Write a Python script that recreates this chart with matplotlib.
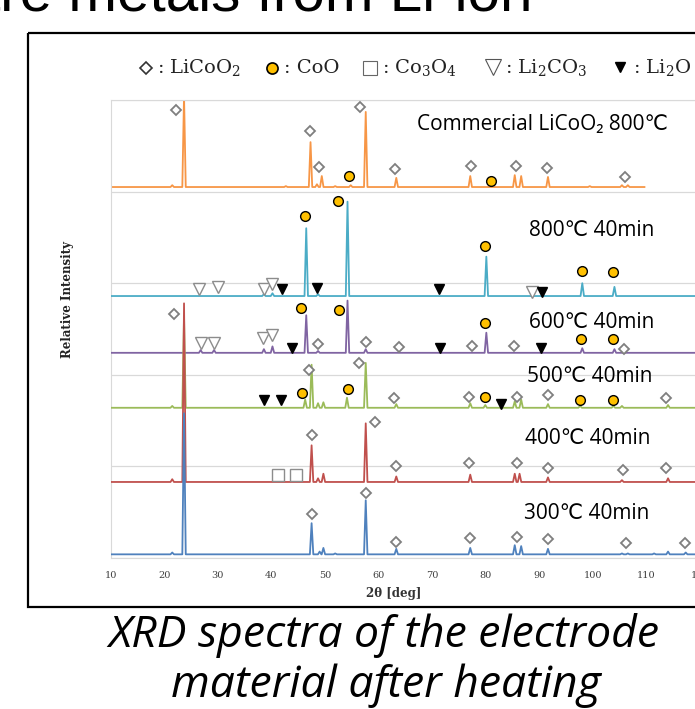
import matplotlib
matplotlib.use('Agg')
import matplotlib.pyplot as plt
import numpy as np
from matplotlib.patches import Rectangle

plt.rcParams['mathtext.fontset'] = 'dejavuserif'

# ---------------- data ----------------
tick_values = [10, 20, 30, 40, 50, 60, 70, 80, 90, 100, 110, 120]

labels = ['Commercial LiCoO\u2082 800\u2103', '800\u2103 40min', '600\u2103 40min',
          '500\u2103 40min', '400\u2103 40min', '300\u2103 40min']
colors = ['#F79646', '#4BACC6', '#8064A2', '#9BBB59', '#C0504D', '#4F81BD']
baselines = [4.05, 2.86, 2.24, 1.64, 0.83, 0.04]
x_end = [109.6, 120, 120, 120, 120, 120]

# peak positions (2theta) and heights above the baseline, one pair per spectrum
commercial_pos = [21.5, 23.7, 42.7, 47.3, 48.5, 49.4, 51.9, 54.8, 57.6, 63.3, 77.1, 85.4, 86.6, 91.6, 99.4, 105.4, 106.5]
commercial_h = [0.02, 1.00, 0.01, 0.49, 0.03, 0.12, 0.01, 0.02, 0.82, 0.10, 0.12, 0.13, 0.12, 0.11, 0.01, 0.02, 0.02]
c800_pos = [38.6, 40.2, 46.5, 48.7, 54.2, 80.1, 98.0, 104.0]
c800_h = [0.02, 0.03, 0.74, 0.02, 1.03, 0.43, 0.14, 0.10]
c600_pos = [26.8, 29.3, 38.6, 40.2, 46.5, 48.7, 54.2, 57.6, 80.1, 98.0, 104.0]
c600_h = [0.03, 0.03, 0.04, 0.07, 0.41, 0.02, 0.57, 0.04, 0.22, 0.05, 0.04]
c500_pos = [21.5, 23.7, 46.3, 47.5, 48.7, 49.7, 54.1, 57.6, 63.3, 77.1, 79.9, 85.4, 86.6, 91.6, 97.6, 103.8, 105.4, 114.0]
c500_h = [0.02, 1.00, 0.09, 0.47, 0.05, 0.06, 0.11, 0.49, 0.04, 0.05, 0.03, 0.07, 0.09, 0.04, 0.02, 0.02, 0.02, 0.03]
c400_pos = [21.5, 23.7, 47.5, 48.7, 49.7, 57.6, 63.3, 77.1, 85.4, 86.3, 91.6, 105.4, 114.0]
c400_h = [0.03, 1.95, 0.40, 0.04, 0.09, 0.64, 0.06, 0.08, 0.09, 0.09, 0.05, 0.02, 0.04]
c300_pos = [21.5, 23.7, 47.5, 49.0, 49.7, 51.9, 57.6, 63.3, 77.1, 85.4, 86.6, 91.6, 105.4, 106.5, 111.4, 114.0, 117.3]
c300_h = [0.02, 1.54, 0.34, 0.03, 0.07, 0.01, 0.59, 0.06, 0.07, 0.10, 0.09, 0.06, 0.01, 0.01, 0.01, 0.03, 0.02]

peak_pos = [commercial_pos, c800_pos, c600_pos, c500_pos, c400_pos, c300_pos]
peak_h = [commercial_h, c800_h, c600_h, c500_h, c400_h, c300_h]

# phase markers (2theta, plotted level)
licoo2_x = [22.2, 47.2, 48.9, 56.6, 63.1, 77.3, 85.7, 91.4, 106.0,
            21.8, 48.7, 57.6, 63.8, 77.4, 85.2, 105.8,
            47.1, 56.3, 62.8, 76.9, 85.9, 91.6, 113.7,
            47.5, 59.4, 63.3, 76.9, 85.9, 91.6, 105.6, 113.7,
            47.5, 57.6, 63.3, 77.1, 85.9, 91.6, 106.2, 117.1]
licoo2_y = [4.89, 4.66, 4.27, 4.92, 4.25, 4.28, 4.28, 4.26, 4.16,
            2.66, 2.34, 2.36, 2.30, 2.31, 2.31, 2.28,
            2.05, 2.13, 1.75, 1.76, 1.76, 1.78, 1.75,
            1.34, 1.48, 1.00, 1.04, 1.04, 0.98, 0.96, 0.98,
            0.48, 0.71, 0.17, 0.22, 0.23, 0.21, 0.16, 0.16]
coo_x = [54.4, 81.0, 46.3, 52.5, 79.9, 98.0, 103.8,
         45.6, 52.6, 79.9, 97.8, 103.8, 45.8, 54.2, 79.9, 97.6, 103.8]
coo_y = [4.17, 4.12, 3.73, 3.90, 3.41, 3.13, 3.12,
         2.73, 2.71, 2.57, 2.39, 2.39, 1.80, 1.84, 1.76, 1.72, 1.72]
co3o4_x = [41.3, 44.6]
co3o4_y = [0.91, 0.91]
li2co3_x = [26.4, 30.0, 38.6, 40.2, 88.6, 26.8, 29.3, 38.5, 40.2]
li2co3_y = [2.94, 2.96, 2.94, 2.99, 2.90, 2.35, 2.35, 2.40, 2.43]
li2o_x = [41.9, 48.5, 71.2, 90.5, 43.8, 71.4, 90.3, 38.6, 41.7, 82.9]
li2o_y = [2.94, 2.95, 2.94, 2.90, 2.29, 2.29, 2.29, 1.72, 1.72, 1.68]

label_x = [67.2, 88.1, 88.1, 87.7, 87.3, 87.1]
label_y = [4.73, 3.58, 2.57, 1.98, 1.30, 0.49]


def spectrum(base, end, pos, h, w=0.32):
    xs, ys = [10.0], [base]
    for p, hh in sorted(zip(pos, h)):
        xs += [p - w, p, p + w]
        ys += [base, base + hh, base]
    xs.append(end)
    ys.append(base)
    return np.array(xs), np.array(ys)


fig = plt.figure(figsize=(6.95, 7.09), dpi=100)
W, H = 695, 709

# main spectra axes (right side runs off the picture, as in the slide crop)
ax = fig.add_axes([110.6 / W, 1 - 558 / H, 589.6 / W, 458 / H])
ax.set_xlim(10, 120)
ax.set_ylim(0, 5)
for yy in range(6):
    ax.axhline(yy, color='#d9d9d9', lw=0.9, zorder=0)
for s in ax.spines.values():
    s.set_color('#d9d9d9')
ax.set_yticks([])
ax.set_xticks(tick_values)
ax.tick_params(axis='x', length=0, pad=9, labelsize=7, labelcolor='#404040')
for t in ax.get_xticklabels():
    t.set_family('DejaVu Serif')

for i in range(len(labels)):
    xs, ys = spectrum(baselines[i], x_end[i], peak_pos[i], peak_h[i])
    ax.plot(xs, ys, color=colors[i], lw=1.3, zorder=2 + i)
    ax.text(label_x[i], label_y[i], labels[i], fontsize=15, va='center', ha='left',
            family=['Open Sans', 'DejaVu Sans'], color='black', zorder=20)

mk = dict(ls='none', zorder=15, clip_on=False)
ax.plot(licoo2_x, licoo2_y, marker='D', ms=5.5, mfc='white', mec='#7f7f7f', mew=1.3, **mk)
ax.plot(coo_x, coo_y, marker='o', ms=7, mfc='#FFC000', mec='black', mew=1.0, **mk)
ax.plot(co3o4_x, co3o4_y, marker='s', ms=8, mfc='white', mec='#8c8c8c', mew=1.0, **mk)
ax.plot(li2co3_x, li2co3_y, marker='v', ms=8, mfc='white', mec='#8c8c8c', mew=1.0, **mk)
ax.plot(li2o_x, li2o_y, marker='v', ms=7.5, mfc='black', mec='black', mew=1.0, **mk)

# overlay in pixel units for the slide furniture
ov = fig.add_axes([0, 0, 1, 1], facecolor='none')
ov.set_xlim(0, W)
ov.set_ylim(H, 0)
ov.axis('off')

ov.add_patch(Rectangle((28, 33), 700, 574, fill=False, ec='black', lw=1.6))

# slide title, mostly cut off at the top edge
ov.text(532, 11, 'Recovery of rare metals from Li-ion', fontsize=42, ha='right',
        va='baseline', family='Liberation Sans', color='black')

# legend row
lg = dict(fontsize=14, va='center', family='DejaVu Serif', color='#222222')
ov.plot([146], [68], marker='D', ms=6, mfc='white', mec='#333333', mew=1.2)
ov.text(157, 68, r': LiCoO$_2$', **lg)
ov.plot([272], [68], marker='o', ms=8, mfc='#FFC000', mec='black', mew=1.2)
ov.text(284, 68, ': CoO', **lg)
ov.plot([370], [68], marker='s', ms=10, mfc='white', mec='#666666', mew=0.8)
ov.text(382, 68, r': Co$_3$O$_4$', **lg)
ov.plot([493], [67], marker='v', ms=11, mfc='white', mec='#555555', mew=0.8)
ov.text(505, 68, r': Li$_2$CO$_3$', **lg)
ov.plot([620], [67], marker='v', ms=7, mfc='black', mec='black')
ov.text(633, 68, r': Li$_2$O', **lg)

ov.text(68, 300, 'Relative Intensity', rotation=90, fontsize=8.5, fontweight='bold',
        va='center', ha='center', family='DejaVu Serif', color='#222222')
ov.text(394, 594, '2\u03b8 [deg]', fontsize=8.5, fontweight='bold', va='center',
        ha='center', family='DejaVu Serif', color='#333333')

ov.text(384, 636, 'XRD spectra of the electrode', fontsize=32, style='italic',
        ha='center', va='center', family=['Open Sans', 'Lato'])
ov.text(386, 686, 'material after heating', fontsize=32, style='italic',
        ha='center', va='center', family=['Open Sans', 'Lato'])

fig.savefig('out.png', dpi=100)
